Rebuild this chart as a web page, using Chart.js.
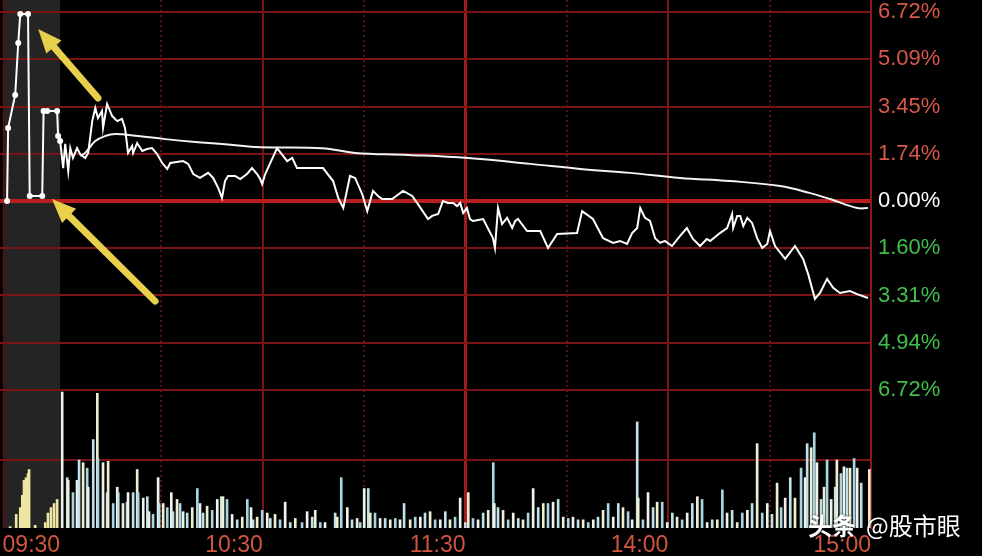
<!DOCTYPE html>
<html lang="zh-CN">
<head>
<meta charset="UTF-8">
<title>分时图</title>
<script src="https://cdn.jsdelivr.net/npm/chart.js@4.4.1/dist/chart.umd.min.js"></script>
<style>
  html, body { margin: 0; padding: 0; background: #000; }
</style>
</head>
<body>
<canvas id="fenshi" width="982" height="556"></canvas>
<script>
// x = minutes after 09:30 (0 .. 240), negative values = call auction strip on the left
const timeTickValues = [0, 60, 120, 180, 240];
const timeTickLabels = ['09:30', '10:30', '11:30', '14:00', '15:00'];
const halfHourTicks = [30, 90, 150, 210];

// right axis, percent change
const priceTickValues = [6.72, 5.04, 3.36, 1.68, 0, -1.68, -3.36, -5.04, -6.72];
const priceTickLabels = ['6.72%', '5.09%', '3.45%', '1.74%', '0.00%', '1.60%', '3.31%', '4.94%', '6.72%'];

// call auction
const auctionMin = [-15.7, -15.4, -13.3, -12.4, -11.8, -9.5, -9.0, -5.3, -4.9, -3.8, -0.9, -0.6, 0];
const auctionPct = [0, 2.60, 3.77, 5.62, 6.65, 6.65, 0.18, 0.18, 3.20, 3.20, 3.20, 2.31, 2.13];
const auctionVolMin = [-14.8, -13.0, -11.8, -11.2, -10.7, -10.1, -9.5, -9.2, -7.4, -4.4, -3.6, -2.7, -1.8, -0.9];
const auctionVol = [1, 10, 15, 24, 35, 37, 40, 43, 2, 4, 11, 15, 18, 21];

// price line
const priceMin = [0, 0.9, 1.5, 2.4, 3.0, 3.8, 5.0, 5.9, 7.4, 8.3, 9.5, 10.4, 11.2, 12.4, 12.7, 13.9, 15.4, 16.9, 18.3, 19.2,
  20.1, 21.3, 21.6, 22.8, 24.3, 25.7, 27.2, 28.7, 30.2, 31.7, 32.6, 36.4, 37.9, 39.4, 41.4, 43.8, 45.3, 46.8, 47.9, 48.8,
  49.7, 51.8, 53.3, 55.3, 56.8, 58.3, 59.2, 59.8, 60.7, 64.2, 67.2, 68.7, 70.1, 77.8, 80.8, 82.3, 83.8, 85.8, 87.3, 89.4,
  90.9, 92.6, 94.1, 95.3, 98.3, 101.5, 104.2, 105.9, 108.9, 110.1, 111.9, 113.3, 114.8, 116.3, 117.5, 118.4, 119.3, 120.4, 121.3, 122.2,
  125.2, 128.1, 128.7, 129.6, 130.8, 132.3, 133.8, 134.7, 135.5, 138.2, 142.1, 144.4, 147.1, 153.0, 154.5, 157.7, 160.7, 163.7, 165.7, 167.8,
  169.3, 170.8, 171.7, 173.1, 174.6, 176.1, 177.6, 179.0, 181.1, 183.5, 185.5, 187.3, 189.4, 191.4, 192.4, 195.3, 197.4, 198.9, 199.2, 200.4,
  201.3, 202.2, 203.4, 204.8, 206.3, 207.8, 209.3, 210.1, 211.6, 214.6, 217.5, 219.9, 221.4, 223.4, 224.9, 227.0, 228.8, 230.8, 233.8, 235.9, 239.1];
const pricePct = [2.13, 1.17, 2.03, 1.07, 1.88, 1.53, 1.88, 1.67, 1.53, 1.71, 2.84, 3.31, 2.95, 3.20, 2.60, 3.45, 3.02, 2.84, 2.92, 2.60,
  1.71, 1.96, 1.71, 2.06, 1.78, 1.85, 1.88, 1.67, 1.35, 1.14, 1.35, 1.42, 1.32, 0.96, 0.82, 1.00, 0.82, 0.46, 0.11, 0.71,
  0.89, 0.89, 0.78, 0.96, 1.17, 0.96, 0.78, 0.60, 0.96, 1.88, 1.42, 1.53, 1.17, 1.17, 0.71, 0.11, -0.25, 0.89, 0.82, 0.25,
  -0.36, 0.36, 0.18, 0.07, 0.07, 0.36, 0.18, -0.11, -0.64, -0.53, -0.46, 0, -0.07, -0.07, -0.18, -0.07, -0.43, -0.25, -0.64, -0.71,
  -0.64, -1.32, -1.67, -0.25, -0.82, -0.60, -0.96, -0.71, -0.64, -1.07, -1.07, -1.67, -1.17, -1.14, -0.36, -0.64, -1.32, -1.49, -1.42, -1.53,
  -1.14, -0.96, -0.25, -0.60, -0.71, -1.32, -1.49, -1.42, -1.60, -1.24, -0.96, -1.35, -1.60, -1.35, -1.42, -1.14, -0.96, -0.46, -0.96, -0.53,
  -0.53, -0.89, -0.60, -0.78, -1.32, -1.67, -1.53, -1.07, -1.60, -2.06, -1.60, -2.06, -2.60, -3.48, -3.27, -2.77, -3.09, -3.27, -3.20, -3.31, -3.45];

// average price line
const avgMin = [5.9, 7.4, 10.4, 13.3, 16.3, 23.1, 31.1, 40.0, 47.9, 57.7, 77.5, 87.3, 103.0, 120.7, 139.1, 153.9, 168.7, 183.5, 198.3, 213.1, 222.0, 227.9, 235.9, 239.1];
const avgPct = [1.60, 1.71, 2.13, 2.31, 2.38, 2.31, 2.20, 2.10, 2.03, 1.92, 1.88, 1.71, 1.64, 1.53, 1.32, 1.14, 1.00, 0.82, 0.71, 0.53, 0.28, 0.07, -0.25, -0.25];

// volume (relative units, 50 = middle line of the volume panel)
const volMin = [0.6, 2.1, 2.4, 3.8, 5.0, 5.6, 6.8, 8.0, 8.3, 9.8, 11.0, 11.2, 12.7, 13.9, 14.2, 15.7, 16.9, 17.2, 18.6, 19.8,
  20.1, 21.6, 22.8, 23.1, 24.6, 25.8, 26.3, 27.5, 29.0, 29.3, 30.5, 31.7, 32.9, 33.4, 34.6, 35.5, 36.4, 37.6, 39.1, 40.6,
  41.4, 42.3, 43.5, 45.0, 46.5, 47.7, 48.2, 49.4, 50.9, 52.4, 53.9, 55.4, 56.5, 57.1, 58.3, 59.8, 61.3, 62.2, 63.6, 65.1,
  66.6, 68.1, 69.6, 71.6, 73.1, 74.6, 75.5, 77.0, 78.4, 81.4, 82.0, 83.2, 85.0, 86.4, 87.9, 88.8, 90.0, 91.2, 91.8, 93.2,
  94.7, 96.2, 97.7, 99.2, 100.6, 101.8, 103.6, 105.1, 106.6, 108.0, 109.5, 111.0, 112.5, 114.0, 115.4, 116.9, 118.4, 119.9, 120.8, 122.2,
  123.7, 125.2, 126.7, 128.2, 128.5, 129.6, 131.1, 132.6, 134.1, 135.6, 137.0, 138.5, 140.0, 141.5, 143.0, 144.4, 145.9, 147.4, 148.9, 150.4,
  151.8, 153.3, 154.8, 156.3, 157.8, 159.2, 160.7, 162.2, 163.7, 165.2, 166.6, 168.1, 169.3, 170.8, 171.1, 172.5, 174.0, 175.5, 176.7, 178.2,
  179.7, 181.2, 182.6, 184.1, 185.6, 187.1, 188.6, 190.0, 191.5, 193.0, 194.5, 196.0, 197.4, 198.9, 200.4, 201.9, 203.4, 204.8, 206.3, 207.8,
  209.3, 210.7, 212.2, 213.4, 214.6, 216.1, 217.5, 219.3, 220.5, 221.1, 222.3, 223.2, 224.0, 225.2, 226.1, 227.0, 228.2, 229.4, 229.9, 231.1,
  232.0, 232.9, 233.8, 235.0, 235.9, 237.1, 239.5];
const volVal = [100, 37, 35, 26, 35, 50, 48, 44, 30, 65, 99, 51, 48, 26, 49, 18, 30, 26, 18, 19,
  26, 26, 43, 26, 22, 23, 12, 10, 37, 18, 18, 15, 26, 12, 21, 18, 12, 11, 15, 29,
  18, 11, 16, 13, 21, 23, 23, 21, 10, 6, 8, 21, 15, 6, 8, 13, 11, 7, 10, 6,
  19, 4, 7, 4, 12, 8, 13, 4, 4, 11, 8, 37, 15, 6, 7, 4, 29, 29, 11, 11,
  7, 7, 6, 7, 6, 18, 6, 8, 8, 11, 12, 6, 6, 12, 6, 8, 22, 4, 26, 7,
  6, 11, 13, 48, 18, 15, 13, 6, 11, 7, 6, 11, 29, 15, 18, 18, 19, 21, 8, 7,
  8, 6, 6, 4, 6, 8, 13, 18, 8, 18, 15, 12, 6, 78, 22, 6, 26, 15, 19, 19,
  4, 11, 8, 6, 11, 18, 23, 21, 4, 6, 6, 28, 11, 13, 4, 11, 13, 18, 62, 11,
  18, 10, 33, 15, 22, 37, 22, 44, 37, 62, 59, 70, 48, 21, 30, 50, 21, 30, 50, 40,
  45, 44, 44, 51, 44, 33, 43];

// yellow arrows (tail -> head) in chart units
const arrowTail = [[11.2, 3.66], [28.1, -3.56]];
const arrowHead = [[-6.5, 6.12], [-2.4, 0.07]];

const RED = '#d8584a';
const GREEN = '#3fbf4c';
const GRID = '#7a1414';
const volColors = ['#f2f2ec', '#bfe2ea', '#eeeed0', '#a8d4e4'];

const xy = (xs, ys) => xs.map((x, i) => ({ x: x, y: ys[i] }));

const bgPlugin = {
  id: 'bg',
  beforeDraw(chart) {
    const c = chart.ctx, a = chart.chartArea, x = chart.scales.x;
    c.save();
    c.fillStyle = '#000';
    c.fillRect(0, 0, chart.width, chart.height);
    // auction strip
    const x0 = x.getPixelForValue(-16.4), x1 = x.getPixelForValue(0);
    c.fillStyle = '#242424';
    c.fillRect(x0, a.top, x1 - x0, a.bottom - a.top);
    c.fillStyle = '#5a1212';
    c.fillRect(x0 - 2, a.top, 2, a.bottom - a.top);
    c.restore();
  }
};

const arrowPlugin = {
  id: 'arrows',
  afterDatasetsDraw(chart) {
    const c = chart.ctx, x = chart.scales.x, y = chart.scales.y;
    c.save();
    c.fillStyle = '#e8cf4c';
    c.strokeStyle = '#e8cf4c';
    arrowTail.forEach((t, i) => {
      const h = arrowHead[i];
      const tx = x.getPixelForValue(t[0]), ty = y.getPixelForValue(t[1]);
      const hx = x.getPixelForValue(h[0]), hy = y.getPixelForValue(h[1]);
      const ang = Math.atan2(hy - ty, hx - tx);
      const len = 24, half = 10;
      const bx = hx - len * Math.cos(ang), by = hy - len * Math.sin(ang);
      c.lineWidth = 7;
      c.lineCap = 'round';
      c.beginPath();
      c.moveTo(tx, ty);
      c.lineTo(bx, by);
      c.stroke();
      c.beginPath();
      c.moveTo(hx, hy);
      c.lineTo(bx + half * Math.sin(ang), by - half * Math.cos(ang));
      c.lineTo(bx - half * Math.sin(ang), by + half * Math.cos(ang));
      c.closePath();
      c.fill();
    });
    c.restore();
  }
};

const markPlugin = {
  id: 'mark',
  afterDraw(chart) {
    const c = chart.ctx;
    c.save();
    c.fillStyle = '#ffffff';
    c.shadowColor = 'rgba(0,0,0,0.6)';
    c.shadowBlur = 3;
    c.textBaseline = 'middle';
    c.font = 'bold 24px "Noto Sans CJK SC"';
    c.fillText('头条', 808, 526);
    c.font = '24px "Noto Sans CJK SC"';
    c.fillText('@股市眼', 866, 526);
    c.restore();
  }
};

const ctx = document.getElementById('fenshi').getContext('2d');
const chart = new Chart(ctx, {
  type: 'line',
  data: {
    datasets: [
      { label: '集合竞价', data: xy(auctionMin, auctionPct), yAxisID: 'y', borderColor: '#fff', borderWidth: 2,
        pointRadius: 3, pointBackgroundColor: '#fff', pointBorderWidth: 0 },
      { label: '价格', data: xy(priceMin, pricePct), yAxisID: 'y', borderColor: '#fff', borderWidth: 2, pointRadius: 0 },
      { label: '均价', data: xy(avgMin, avgPct), yAxisID: 'y', borderColor: '#f2f2f2', borderWidth: 2, pointRadius: 0, tension: 0.4 },
      { type: 'bar', label: '竞价量', data: xy(auctionVolMin, auctionVol), yAxisID: 'vol',
        backgroundColor: '#eee6a2', barThickness: 2, grouped: false },
      { type: 'bar', label: '成交量', data: xy(volMin, volVal), yAxisID: 'vol',
        backgroundColor: c => volColors[c.dataIndex % volColors.length], barThickness: 2, grouped: false }
    ]
  },
  options: {
    responsive: false,
    animation: false,
    layout: { padding: 0, autoPadding: false },
    plugins: { legend: { display: false }, tooltip: { enabled: false } },
    scales: {
      x: {
        type: 'linear', position: 'bottom', min: -17.8, max: 240, offset: false,
        afterBuildTicks: s => { s.ticks = timeTickValues.concat(halfHourTicks).sort((a, b) => a - b).map(v => ({ value: v })); },
        ticks: {
          autoSkip: false, maxRotation: 0, align: 'end', padding: 4, color: '#d0563f',
          font: { size: 23, family: 'Liberation Sans' },
          callback: v => { const i = timeTickValues.indexOf(v); return i >= 0 ? timeTickLabels[i] : ''; }
        },
        grid: {
          offset: false, drawTicks: false,
          color: c => (c.tick.value === 0 || c.tick.value === 240) ? 'rgba(0,0,0,0)' :
            halfHourTicks.includes(c.tick.value) ? '#5a1010' : (c.tick.value === 120 ? '#a01c1c' : GRID),
          lineWidth: c => c.tick.value === 120 ? 3 : 2
        },
        border: { display: false, dash: c => halfHourTicks.includes(c.tick.value) ? [2, 3] : [] },
        afterFit: s => { s.height = 28; s.paddingLeft = 0; s.paddingRight = 0; }
      },
      y: {
        type: 'linear', position: 'right', min: -11.627, max: 7.147,
        afterBuildTicks: s => { s.ticks = priceTickValues.map(v => ({ value: v })); },
        ticks: {
          padding: 7,
          font: { size: 22, family: 'Liberation Sans' },
          color: c => c.index < 4 ? RED : (c.index === 4 ? '#ffffff' : GREEN),
          callback: (v, i) => priceTickLabels[i]
        },
        grid: {
          drawTicks: false,
          color: c => c.tick.value === 0 ? '#b81e1e' : GRID,
          lineWidth: c => c.tick.value === 0 ? 4 : 2
        },
        border: { color: '#8c1a1a', width: 2 },
        afterFit: s => { s.width = 111; s.paddingTop = 0; s.paddingBottom = 0; }
      },
      vol: {
        type: 'linear', position: 'left', min: 0, max: 388.2,
        afterBuildTicks: s => { s.ticks = [{ value: 50 }]; },
        ticks: { display: false },
        grid: { drawTicks: false, color: GRID, lineWidth: 2 },
        border: { display: false },
        afterFit: s => { s.width = 0; s.paddingTop = 0; s.paddingBottom = 0; }
      }
    }
  },
  plugins: [bgPlugin, arrowPlugin, markPlugin]
});
</script>
</body>
</html>
